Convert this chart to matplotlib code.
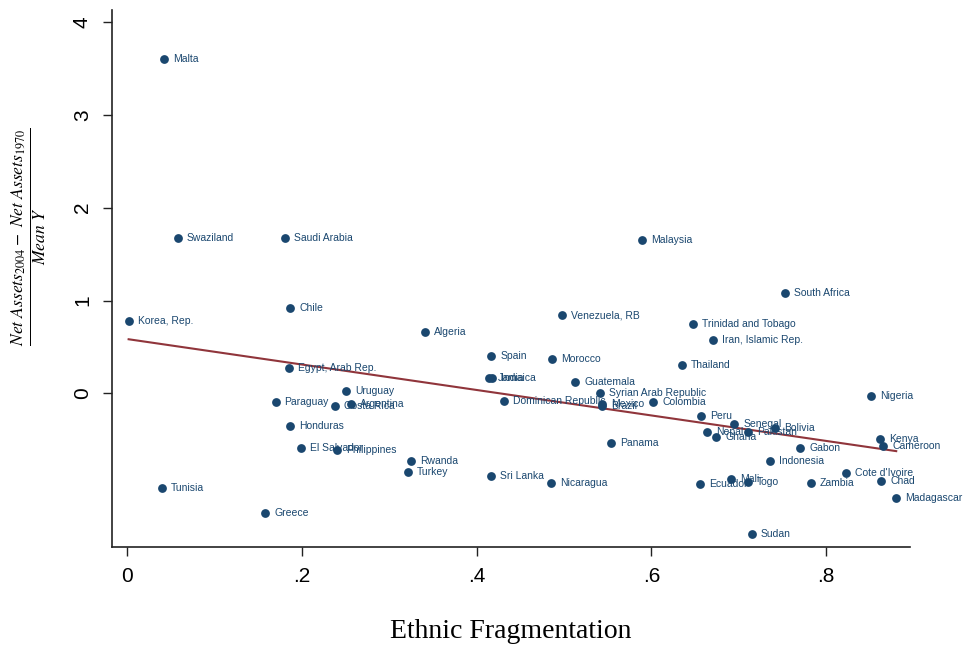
import numpy as np
import matplotlib
matplotlib.use("Agg")
import matplotlib.pyplot as plt

plt.rcParams["mathtext.fontset"] = "stix"

# ethnic fragmentation vs. change in net assets (scaled by mean income)
countries = [
    "Malta", "Swaziland", "Saudi Arabia", "Chile", "Korea, Rep.", "Algeria",
    "Malaysia", "South Africa", "Venezuela, RB", "Trinidad and Tobago",
    "Iran, Islamic Rep.", "Spain", "Morocco", "Thailand", "Egypt, Arab Rep.",
    "Jamaica", "India", "Guatemala", "Uruguay", "Syrian Arab Republic",
    "Nigeria", "Paraguay", "Dominican Republic", "Colombia", "Argentina",
    "Mexico", "Costa Rica", "Brazil", "Peru", "Honduras", "Senegal",
    "Bolivia", "Nepal", "Pakistan", "Ghana", "Kenya", "Panama", "Cameroon",
    "Gabon", "El Salvador", "Philippines", "Indonesia", "Rwanda", "Turkey",
    "Cote d'Ivoire", "Sri Lanka", "Mali", "Chad", "Togo", "Nicaragua",
    "Zambia", "Ecuador", "Tunisia", "Madagascar", "Greece", "Sudan",
]
ethnic_frag = [
    0.042, 0.058, 0.181, 0.187, 0.002, 0.341,
    0.589, 0.753, 0.498, 0.648,
    0.670, 0.417, 0.486, 0.635, 0.185,
    0.414, 0.418, 0.513, 0.251, 0.541,
    0.851, 0.170, 0.431, 0.602, 0.256,
    0.543, 0.238, 0.543, 0.657, 0.187, 0.695,
    0.741, 0.664, 0.711, 0.674, 0.861, 0.554, 0.865,
    0.770, 0.199, 0.240, 0.736, 0.325, 0.321,
    0.822, 0.416, 0.691, 0.863, 0.710, 0.485,
    0.782, 0.656, 0.040, 0.880, 0.158, 0.715,
]
net_assets = [
    3.60, 1.67, 1.67, 0.92, 0.78, 0.66,
    1.65, 1.08, 0.84, 0.75,
    0.58, 0.40, 0.37, 0.31, 0.27,
    0.17, 0.17, 0.12, 0.03, 0.00,
    -0.03, -0.09, -0.08, -0.09, -0.11,
    -0.11, -0.14, -0.14, -0.24, -0.35, -0.33,
    -0.37, -0.41, -0.42, -0.47, -0.49, -0.53, -0.57,
    -0.59, -0.59, -0.61, -0.73, -0.73, -0.85,
    -0.86, -0.89, -0.92, -0.94, -0.95, -0.96,
    -0.96, -0.98, -1.02, -1.13, -1.29, -1.51,
]
xticks = [0, 0.2, 0.4, 0.6, 0.8]
xticklabels = ["0", ".2", ".4", ".6", ".8"]
yticks = [0, 1, 2, 3, 4]

navy = "#1a476f"
maroon = "#90353b"

x = np.array(ethnic_frag)
y = np.array(net_assets)

fig = plt.figure(figsize=(9.64, 6.47), dpi=100)
ax = fig.add_axes([0.1162, 0.155, 0.828, 0.83])

ax.scatter(x, y, s=40, color=navy, zorder=3, linewidths=0)
for name, xi, yi in zip(countries, x, y):
    ax.annotate(name, (xi, yi), xytext=(6.5, 0), textcoords="offset points",
                ha="left", va="center", fontsize=7.5, color=navy,
                family="Liberation Sans", zorder=4)

# linear fit over the observed range
slope, intercept = np.polyfit(x, y, 1)
xs = np.array([x.min(), x.max()])
ax.plot(xs, intercept + slope * xs, color=maroon, lw=1.5, zorder=2)

ax.set_xlim(-0.017, 0.896)
ax.set_ylim(-1.65, 4.13)
ax.set_xticks(xticks)
ax.set_xticklabels(xticklabels)
ax.set_yticks(yticks)
ax.set_yticklabels([str(v) for v in yticks], rotation=90, va="center")

for side in ["top", "right"]:
    ax.spines[side].set_visible(False)
for side in ["left", "bottom"]:
    ax.spines[side].set_color("#222222")
    ax.spines[side].set_linewidth(1.2)

ax.tick_params(axis="both", direction="out", length=6.5, width=1.0,
               color="#222222", labelsize=15, labelcolor="black")
ax.tick_params(axis="x", pad=8)
ax.tick_params(axis="y", pad=8)
for lab in ax.get_xticklabels() + ax.get_yticklabels():
    lab.set_family("Liberation Sans")

ax.set_xlabel("Ethnic Fragmentation", family="Liberation Serif", fontsize=20,
              labelpad=24)

ax.set_ylabel(r"$\frac{Net\ Assets_{2004}-\ Net\ Assets_{1970}}{Mean\ Y}$",
              fontsize=18, va="center")
ax.yaxis.set_label_coords(-0.104, 0.577)

fig.savefig("out.png", dpi=100)
